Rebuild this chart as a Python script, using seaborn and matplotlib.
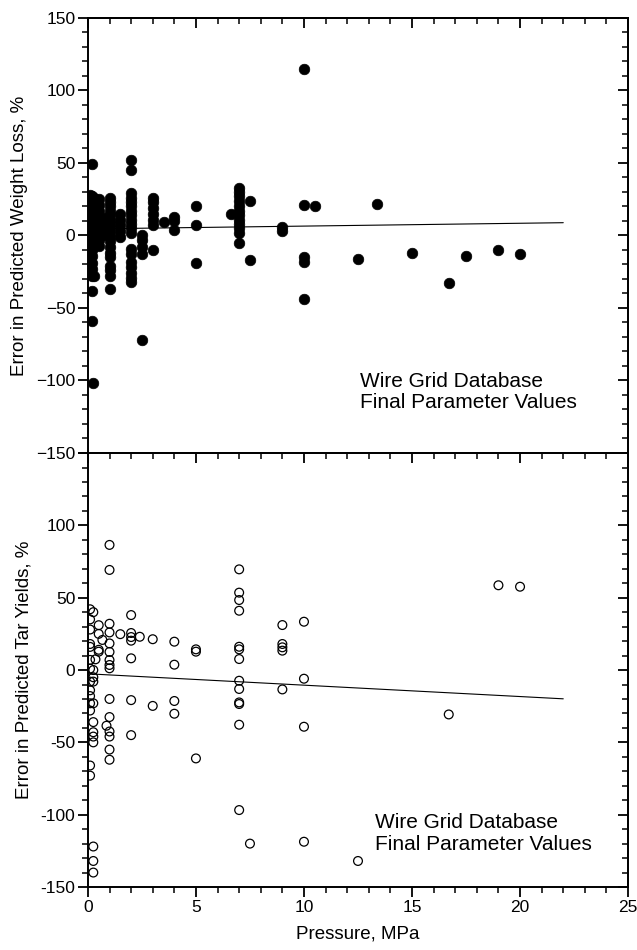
import numpy as np
import pandas as pd
import seaborn as sns
from matplotlib import pyplot as plt
from matplotlib.ticker import MultipleLocator

# Weight loss errors (filled symbols)
wl_pressure = (
    [0.1] * 13 + [0.2] * 20 + [0.25] + [0.3] * 10 + [0.5] * 9 + [0.7] * 4
    + [1.0] * 18 + [1.5] * 5 + [2.0] * 19 + [2.5] * 5 + [3.0] * 7 + [3.5]
    + [4.0] * 3 + [5.0] * 3 + [6.6] + [7.0] * 12 + [7.5] * 2 + [9.0] * 2
    + [10.0] * 5 + [10.5, 12.5, 13.4, 15.0, 16.7, 17.5, 19.0, 20.0]
)
wl_error = (
    [28, 25, 22, 19, 16, 13, 10, 7, 4, 1, -2, -5, -8]
    + [49, 27, 24, 21, 18, 15, 12, 9, 6, 3, 0, -3, -6, -10, -14, -19, -23, -28, -38, -59]
    + [-102]
    + [26, 22, 18, 14, 10, 6, 2, -2, -6, -28]
    + [25, 21, 17, 13, 9, 5, 1, -3, -7]
    + [12, 8, 4, 0]
    + [26, 23, 20, 17, 14, 11, 8, 5, 2, -1, -4, -8, -12, -15, -21, -24, -28, -37]
    + [15, 11, 7, 3, -1]
    + [52, 45, 29, 26, 23, 20, 17, 14, 11, 8, 5, 2, -9, -13, -18, -22, -26, -29, -32]
    + [0, -3, -8, -13, -72]
    + [26, 23, 19, 15, 11, 7, -10]
    + [9.5]
    + [13, 10, 4]
    + [20, 7, -19]
    + [15]
    + [33, 30, 27, 24, 20, 17, 14, 11, 8, 5, 2, -5]
    + [24, -17]
    + [6, 3]
    + [115, 21, -15, -18, -44]
    + [20, -16, 22, -12, -33, -14, -10, -13]
)

# Tar yield errors (open symbols)
tar_pressure = (
    [0.1] * 14 + [0.25] * 12 + [0.35] + [0.5] * 4 + [0.67] + [0.86]
    + [1.0] * 15 + [1.5] + [2.0] * 7 + [2.4] + [3.0] * 2 + [4.0] * 4
    + [5.0] * 3 + [7.0] * 13 + [7.5] + [9.0] * 5 + [10.0] * 4
    + [12.5, 16.7, 19.0, 20.0]
)
tar_error = (
    [42, 35, 28, 18, 16, 7, 1, -8, -14, -18, -23, -28, -66, -73]
    + [40, 0, -5, -8, -23, -36, -43, -46, -50, -122, -132, -140]
    + [7.4]
    + [31, 25, 14, 12.7]
    + [20.8]
    + [-38.5]
    + [86.5, 69.2, 32, 26, 18.4, 12.5, 6.9, 3.5, 1.2, -20, -32.5, -42.5, -46, -55, -62]
    + [24.8]
    + [38, 25.6, 22.8, 20.3, 8.1, -20.8, -45]
    + [23]
    + [21.3, -24.8]
    + [19.6, 3.7, -21.4, -30.2]
    + [14.3, 12.7, -61.1]
    + [69.6, 53.5, 48.4, 41, 16.1, 14.3, 7.6, -7.4, -13.1, -22.4, -23.5, -37.8, -96.8]
    + [-120]
    + [31.1, 18, 15.7, 13.4, -13.4]
    + [33.4, -6, -39.2, -118.7]
    + [-132, -30.7, 58.6, 57.6]
)

# Fitted trend lines (end points)
fit_x = [0, 22]
wl_fit = [4.5, 8.8]
tar_fit = [-2.6, -19.9]

sns.set_theme(style="ticks")
plt.rcParams["font.family"] = ["Liberation Sans", "DejaVu Sans"]
plt.rcParams.update({"text.color": "black", "axes.labelcolor": "black",
                     "xtick.color": "black", "ytick.color": "black"})

wl = pd.DataFrame({"pressure": wl_pressure, "error": wl_error})
tar = pd.DataFrame({"pressure": tar_pressure, "error": tar_error})

fig = plt.figure(figsize=(6.37, 9.5), dpi=100)
ax1 = fig.add_axes([0.138, 0.5232, 0.848, 0.4579])
ax2 = fig.add_axes([0.138, 0.0663, 0.848, 0.4568])

sns.scatterplot(data=wl, x="pressure", y="error", ax=ax1, color="black",
                edgecolor="black", s=58, linewidth=0.5, zorder=3)
sns.lineplot(x=fit_x, y=wl_fit, ax=ax1, color="black", linewidth=0.8)

sns.scatterplot(data=tar, x="pressure", y="error", ax=ax2, facecolors="none",
                edgecolor="black", s=40, linewidth=0.9, zorder=3)
sns.lineplot(x=fit_x, y=tar_fit, ax=ax2, color="black", linewidth=0.8)

for ax in (ax1, ax2):
    ax.set_xlim(0, 25)
    ax.set_ylim(-150, 150)
    ax.xaxis.set_major_locator(MultipleLocator(5))
    ax.xaxis.set_minor_locator(MultipleLocator(1))
    ax.yaxis.set_major_locator(MultipleLocator(50))
    ax.yaxis.set_minor_locator(MultipleLocator(10))
    ax.tick_params(which="major", direction="out", length=7, width=1.3,
                   labelsize=12.5, pad=2)
    ax.tick_params(which="minor", direction="out", length=4, width=1.1)
    for sp in ax.spines.values():
        sp.set_visible(True)
        sp.set_linewidth(1.4)
        sp.set_color("black")
    # mirrored ticks pointing inward on top and right
    top = ax.secondary_xaxis("top")
    top.xaxis.set_major_locator(MultipleLocator(5))
    top.xaxis.set_minor_locator(MultipleLocator(1))
    top.tick_params(which="major", direction="in", length=7, width=1.3, labeltop=False)
    top.tick_params(which="minor", direction="in", length=4, width=1.1)
    right = ax.secondary_yaxis("right")
    right.yaxis.set_major_locator(MultipleLocator(50))
    right.yaxis.set_minor_locator(MultipleLocator(10))
    right.tick_params(which="major", direction="in", length=7, width=1.3, labelright=False)
    right.tick_params(which="minor", direction="in", length=4, width=1.1)
    ax.set_xlabel("")

ax1.tick_params(axis="x", labelbottom=False)
ax2.set_yticks([-150, -100, -50, 0, 50, 100, 150])
ax2.set_yticklabels(["-150", "-100", "-50", "0", "50", "100", ""])

ax1.set_ylabel("Error in Predicted Weight Loss, %", fontsize=13.5, labelpad=6)
ax2.set_ylabel("Error in Predicted Tar Yields, %", fontsize=13.5, labelpad=6)
ax2.set_xlabel("Pressure, MPa", fontsize=13.5, labelpad=8)

ax1.text(12.6, -108, "Wire Grid Database\nFinal Parameter Values",
         fontsize=15, ha="left", va="center", linespacing=1.15)
ax2.text(13.3, -113, "Wire Grid Database\nFinal Parameter Values",
         fontsize=15, ha="left", va="center", linespacing=1.15)

fig.savefig("out.png", dpi=100, facecolor="white")
